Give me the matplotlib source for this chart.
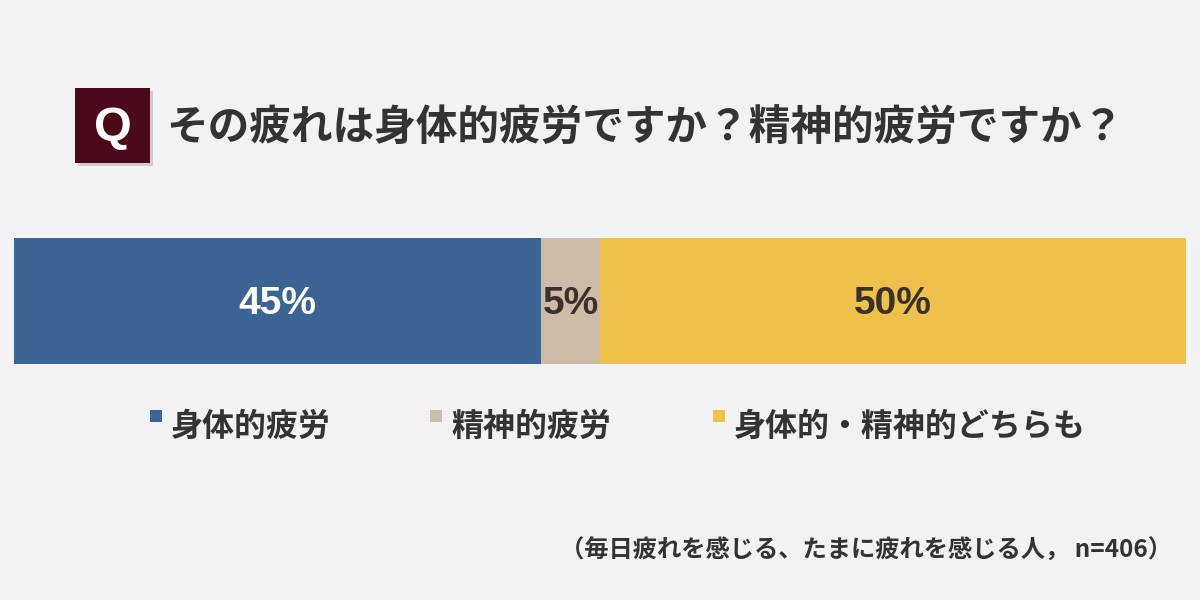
import matplotlib.pyplot as plt
from matplotlib.patches import Rectangle

plt.rcParams['font.family'] = ['Noto Sans CJK JP', 'DejaVu Sans']

title = 'その疲れは身体的疲労ですか？精神的疲労ですか？'
categories = ['身体的疲労', '精神的疲労', '身体的・精神的どちらも']
values = [45, 5, 50]
colors = ['#3B6394', '#CDBBA7', '#EEC14A']
label_colors = ['white', '#3A302C', '#3A302C']
note = '（毎日疲れを感じる、たまに疲れを感じる人， n=406）'

W, H = 1200, 600
fig = plt.figure(figsize=(12, 6), dpi=100)
fig.patch.set_facecolor('#F2F1F4')

# Q box with a soft shadow
fig.patches.append(Rectangle((78 / W, 1 - 166 / H), 75 / W, 75 / H, transform=fig.transFigure,
                             facecolor='#B8B4B8', edgecolor='none', alpha=0.6))
fig.patches.append(Rectangle((75 / W, 1 - 163 / H), 75 / W, 75 / H, transform=fig.transFigure,
                             facecolor='#4A0A1C', edgecolor='none'))
fig.text(112.5 / W, 1 - 128 / H, 'Q', color='white', fontsize=35, fontweight='bold',
         ha='center', va='center', family=['Liberation Sans', 'DejaVu Sans'])
fig.text(166 / W, 1 - 128 / H, title, color='#333333', fontsize=30, fontweight='bold',
         ha='left', va='center')

# stacked bar
ax = fig.add_axes([14 / W, 1 - 364 / H, 1172 / W, 126 / H])
ax.set_facecolor('none')
left = 0
for v, c, lc in zip(values, colors, label_colors):
    ax.barh(0, v, left=left, color=c, height=1, edgecolor='none')
    ax.text(left + v / 2, -0.02, f'{v}%', color=lc, fontsize=28, fontweight='bold',
            ha='center', va='center', family=['Liberation Sans', 'DejaVu Sans'])
    left += v
ax.set_xlim(0, 100)
ax.set_ylim(-0.5, 0.5)
ax.axis('off')

# legend
legend_x = [150, 430, 713]
for x, c, name in zip(legend_x, colors, categories):
    fig.patches.append(Rectangle((x / W, 1 - 422 / H), 12 / W, 12 / H, transform=fig.transFigure,
                                 facecolor=c, edgecolor='none'))
    fig.text((x + 21) / W, 1 - 427 / H, name, color='#333333', fontsize=23, fontweight='bold',
             ha='left', va='center')

fig.text(1172 / W, 1 - 551 / H, note, color='#333333', fontsize=17.5, fontweight='bold',
         ha='right', va='center')

fig.savefig('out.png', dpi=100, facecolor=fig.get_facecolor())
